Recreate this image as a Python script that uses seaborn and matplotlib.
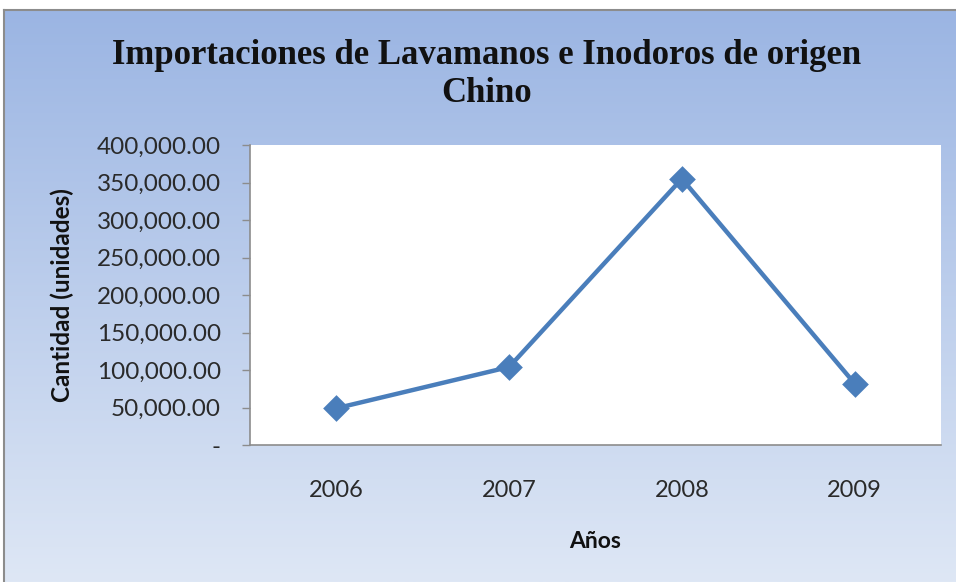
import numpy as np
import seaborn as sns
import matplotlib.pyplot as plt
from matplotlib.ticker import FuncFormatter

years = ['2006', '2007', '2008', '2009']
cantidad = [49000, 104000, 355000, 82000]

sns.set_theme(style='white')
plt.rcParams['font.family'] = ['Lato', 'DejaVu Sans']

fig = plt.figure(figsize=(9.56, 5.82), dpi=100)
fig.patch.set_facecolor('white')

# gradient chart area background
bg = fig.add_axes([4 / 956, 0, 1 - 4 / 956, 572 / 582])
top = np.array([155, 181, 227]) / 255
bottom = np.array([222, 231, 245]) / 255
t = np.linspace(0, 1, 256)[:, None]
grad = top + (bottom - top) * t
bg.imshow(grad[:, None, :], aspect='auto', extent=[0, 1, 0, 1])
bg.set_xticks([])
bg.set_yticks([])
for side in ['right', 'bottom']:
    bg.spines[side].set_visible(False)
for side in ['left', 'top']:
    bg.spines[side].set_color('#8c8c8c')
    bg.spines[side].set_linewidth(1.5)

ax = fig.add_axes([250 / 956, (582 - 445) / 582, 691 / 956, 300 / 582])
ax.set_facecolor('white')
sns.pointplot(x=years, y=cantidad, ax=ax, color='#4A7EBB', markers='D',
              errorbar=None, linewidth=3.2, markersize=11)

ax.set_xlim(-0.5, 3.5)
ax.set_ylim(0, 400000)
ax.set_yticks(np.arange(0, 400001, 50000))
ax.yaxis.set_major_formatter(FuncFormatter(lambda v, p: '-' if v == 0 else f'{v:,.2f}'))

for side in ['top', 'right']:
    ax.spines[side].set_visible(False)
for side in ['left', 'bottom']:
    ax.spines[side].set_color('#8c8c8c')
    ax.spines[side].set_linewidth(1.2)

ax.tick_params(axis='y', left=True, length=6, width=1, color='#8c8c8c',
               labelsize=17.5, labelcolor='#2a2a2a', pad=15)
ax.tick_params(axis='x', bottom=False, length=0, labelsize=17,
               labelcolor='#2a2a2a', pad=25)

ax.set_xlabel('Años', fontsize=16.5, fontweight='bold', color='#111111', va='center')
ax.set_ylabel('Cantidad (unidades)', fontsize=17.5, fontweight='bold', color='#111111', va='center')
ax.xaxis.set_label_coords(0.5, (445 - 541) / 300)
ax.yaxis.set_label_coords((62 - 250) / 691, 0.5)

fig.text(487 / 956, 1 - 75 / 582,
         'Importaciones de Lavamanos e Inodoros de origen\nChino',
         ha='center', va='center', fontsize=25, fontweight='bold',
         family='Liberation Serif', color='#111111', linespacing=1.2)

fig.savefig('out.png', dpi=100)
